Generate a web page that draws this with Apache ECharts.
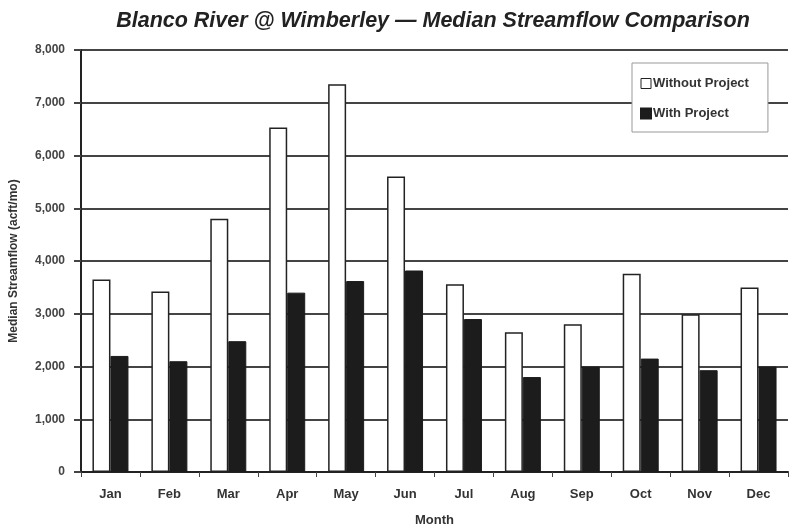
<!DOCTYPE html>
<html>
<head>
<meta charset="UTF-8">
<title>Blanco River @ Wimberley</title>
<script src="https://cdn.jsdelivr.net/npm/echarts@6/dist/echarts.min.js"></script>
<style>
  html, body { margin: 0; padding: 0; background: #ffffff; }
  #chart { width: 793px; height: 532px; }
</style>
</head>
<body>
<div id="chart"></div>
<script>
// data
const months = ['Jan', 'Feb', 'Mar', 'Apr', 'May', 'Jun', 'Jul', 'Aug', 'Sep', 'Oct', 'Nov', 'Dec'];
const withoutProject = [3650, 3420, 4800, 6530, 7350, 5600, 3560, 2650, 2800, 3760, 2990, 3500];
const withProject = [2200, 2100, 2480, 3400, 3620, 3820, 2900, 1800, 2000, 2150, 1930, 2000];

const FONT = 'Liberation Sans, Arial, sans-serif';

var chart = echarts.init(document.getElementById('chart'));

chart.setOption({
  animation: false,
  backgroundColor: '#ffffff',
  title: {
    text: 'Blanco River @ Wimberley \u2014 Median Streamflow Comparison',
    left: 428,
    textAlign: 'center',
    top: 5,
    textStyle: {
      fontFamily: FONT,
      fontSize: 21.5,
      fontWeight: 'bold',
      fontStyle: 'italic',
      color: '#222'
    }
  },
  legend: {
    orient: 'vertical',
    left: 632,
    top: 63,
    width: 140,
    padding: [14, 19, 12, 8],
    itemGap: 17,
    itemWidth: 10,
    itemHeight: 10,
    backgroundColor: '#ffffff',
    borderColor: '#999',
    borderWidth: 1,
    borderRadius: 0,
    textStyle: { fontFamily: FONT, fontSize: 13, fontWeight: 'bold', color: '#333', padding: [0, 0, 0, -3] },
    data: [
      { name: 'Without Project', icon: 'rect', itemStyle: { color: '#fff', borderColor: '#222', borderWidth: 1 } },
      { name: 'With Project', icon: 'rect', itemStyle: { color: '#1c1c1c' } }
    ]
  },
  grid: {
    left: 81,
    right: 5,
    top: 50,
    bottom: 60,
    containLabel: false,
    outerBoundsMode: 'none'
  },
  xAxis: {
    type: 'category',
    data: months,
    name: 'Month',
    nameLocation: 'middle',
    nameGap: 42,
    nameTextStyle: { fontFamily: FONT, fontSize: 13, fontWeight: 'bold', color: '#333' },
    axisLine: { lineStyle: { color: '#222', width: 2 } },
    axisTick: { show: true, alignWithLabel: false, length: 5, lineStyle: { color: '#444' } },
    axisLabel: { fontFamily: FONT, fontSize: 13, fontWeight: 'bold', color: '#333', margin: 16 }
  },
  yAxis: {
    type: 'value',
    min: 0,
    max: 8000,
    interval: 1000,
    name: 'Median Streamflow (acft/mo)',
    nameLocation: 'middle',
    nameGap: 61,
    nameTextStyle: { fontFamily: FONT, fontSize: 12, fontWeight: 'bold', color: '#333' },
    axisLine: { show: true, lineStyle: { color: '#222', width: 2 } },
    axisTick: { show: true, length: 7, lineStyle: { color: '#444', width: 2 } },
    axisLabel: {
      fontFamily: FONT, fontSize: 12, fontWeight: 'bold', color: '#444', margin: 16,
      formatter: function (v) { return v.toLocaleString('en-US'); }
    },
    splitLine: { lineStyle: { color: '#444', width: 2 } }
  },
  series: [
    {
      name: 'Without Project',
      type: 'bar',
      data: withoutProject,
      barWidth: 18,
      barGap: '0%',
      itemStyle: { color: '#ffffff', borderColor: '#222', borderWidth: 1.5 }
    },
    {
      name: 'With Project',
      type: 'bar',
      data: withProject,
      barWidth: 18,
      itemStyle: { color: '#1c1c1c', borderColor: '#1c1c1c', borderWidth: 1 }
    }
  ]
});
</script>
</body>
</html>
